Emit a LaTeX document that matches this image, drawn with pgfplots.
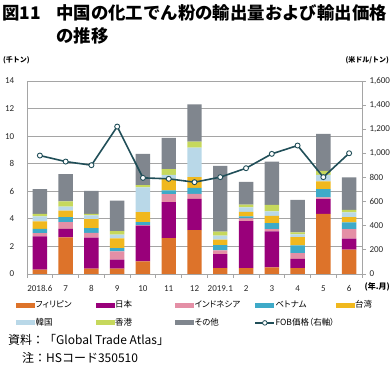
\documentclass[border=0pt]{standalone}
\usepackage{pgfplots}
\pgfplotsset{compat=1.18}
\usepackage{pgfplotstable}
\usepackage{fontspec}
\setmainfont{Carlito}
\newfontfamily\cjk{Noto Sans CJK JP}
\newfontfamily\cjkp{Noto Sans CJK JP}[RawFeature=+palt]
\definecolor{cPhil}{RGB}{221,115,42}
\definecolor{cJap}{RGB}{153,0,122}
\definecolor{cIndo}{RGB}{228,143,166}
\definecolor{cViet}{RGB}{62,170,200}
\definecolor{cTai}{RGB}{240,184,30}
\definecolor{cKor}{RGB}{185,216,232}
\definecolor{cHK}{RGB}{198,216,92}
\definecolor{cOth}{RGB}{128,134,142}
\definecolor{cLine}{RGB}{32,78,88}
\definecolor{cGrid}{RGB}{165,165,165}
\pgfplotstableread{
x phil jap indo viet tai kor hk oth fob
0 0.31 2.42 0.24 0.31 0.53 0.37 0.19 1.78 982
1 2.65 0.63 0.49 0.36 0.46 0.29 0.38 1.98 932
2 0.39 2.24 0.36 0.34 0.65 0.27 0.12 1.66 902
3 0.39 0.65 0.60 0.24 0.70 0.27 0.26 2.22 1222
4 0.92 2.58 0.05 0.22 0.72 1.79 0.16 2.27 797
5 2.61 2.60 0.58 0.27 0.84 0.29 0.41 2.27 789
6 3.19 2.26 0.37 0.43 0.77 2.15 0.44 2.70 761
7 0.43 1.02 0.26 0.39 0.39 0.29 0.29 4.77 803
8 0.43 3.41 0.19 0.15 0.33 0.32 0.21 1.65 877
9 0.48 2.61 0.17 0.43 0.53 0.32 0.48 3.14 996
10 0.43 0.66 0.43 0.56 0.60 0.19 0.15 2.36 1065
11 4.37 1.06 0.12 0.60 0.56 0.48 0.29 2.68 803
12 1.76 0.80 0.70 0.48 0.39 0.34 0.19 2.34 1001
}\data
\pgfplotsset{
  boxleg/.style={legend image code/.code={\fill[#1] (0pt,-2.5pt) rectangle (19pt,2.5pt);}},
}
\newcommand{\legw}[1]{\makebox[59.5pt][l]{#1}}
\begin{document}
\begin{tikzpicture}
\begin{axis}[
  at={(27pt,92pt)}, anchor=south west,
  width=335pt, height=193pt, scale only axis,
  xmin=-0.5, xmax=12.5, ymin=0, ymax=14,
  ybar stacked, bar width=0.56,
  axis lines*=left,
  axis line style={cGrid, line width=0.8pt},
  xtick={0,...,12},
  xticklabels={2018.6,7,8,9,10,11,12,2019.1,2,3,4,5,6},
  major x tick style={draw=none},
  minor xtick={-0.5,0.5,...,12.5},
  minor x tick style={cGrid, line width=0.8pt},
  minor tick length=4pt,
  tick align=outside,
  ytick={0,2,...,14},
  major y tick style={draw=none},
  ymajorgrids, grid style={cGrid, line width=0.8pt},
  /pgf/number format/assume math mode=true,
  tick label style={font=\fontsize{9}{10}\selectfont, text=black!85},
  xticklabel style={yshift=-4pt},
  yticklabel style={xshift=-5pt},
  legend style={draw=none, fill=none, at={(-0.042,-0.125)}, anchor=north west,
    font=\cjkp\fontsize{8.5}{10}\selectfont, nodes={inner sep=0.5pt}, row sep=8pt},
  legend columns=5,
  legend cell align=left,
  clip=false,
]
\addplot[fill=cPhil, draw=none, boxleg=cPhil] table[x=x,y=phil]{\data};
\addlegendentry{\legw{フィリピン}}
\addplot[fill=cJap, draw=none, boxleg=cJap] table[x=x,y=jap]{\data};
\addlegendentry{\legw{日本}}
\addplot[fill=cIndo, draw=none, boxleg=cIndo] table[x=x,y=indo]{\data};
\addlegendentry{\legw{インドネシア}}
\addplot[fill=cViet, draw=none, boxleg=cViet] table[x=x,y=viet]{\data};
\addlegendentry{\legw{ベトナム}}
\addplot[fill=cTai, draw=none, boxleg=cTai] table[x=x,y=tai]{\data};
\addlegendentry{\legw{台湾}}
\addplot[fill=cKor, draw=none, boxleg=cKor] table[x=x,y=kor]{\data};
\addlegendentry{\legw{韓国}}
\addplot[fill=cHK, draw=none, boxleg=cHK] table[x=x,y=hk]{\data};
\addlegendentry{\legw{香港}}
\addplot[fill=cOth, draw=none, boxleg=cOth] table[x=x,y=oth]{\data};
\addlegendentry{\legw{その他}}
\addlegendimage{legend image code/.code={
  \draw[cLine, line width=1.4pt] (0pt,0pt) -- (19pt,0pt);
  \draw[cLine, fill=white, line width=0.8pt] (9.5pt,0pt) circle (2.3pt);}}
\addlegendentry{\legw{FOB価格（右軸）}}
\end{axis}
\begin{axis}[
  at={(27pt,92pt)}, anchor=south west,
  width=335pt, height=193pt, scale only axis,
  xmin=-0.5, xmax=12.5, ymin=0, ymax=1600,
  axis y line*=right, axis x line=none,
  axis line style={cGrid, line width=0.8pt},
  ytick={0,200,...,1600},
  tick align=outside, major tick length=4pt,
  ytick style={cGrid, line width=0.8pt},
  /pgf/number format/assume math mode=true,
  /pgf/number format/1000 sep={,},
  tick label style={font=\fontsize{9}{10}\selectfont, text=black!85},
  clip=false,
]
\addplot[cLine, line width=1.6pt, mark=*, mark size=2.5pt,
  mark options={fill=white, draw=cLine, line width=0.9pt}] table[x=x,y=fob]{\data};
\end{axis}
\node[anchor=west, font=\cjk\bfseries\fontsize{17.4}{20}\selectfont, inner sep=0pt] at (2pt,353pt) {図11};
\node[anchor=west, font=\cjk\bfseries\fontsize{17.4}{20}\selectfont, inner sep=0pt] at (56pt,353pt) {中国の化工でん粉の輸出量および輸出価格};
\node[anchor=west, font=\cjk\bfseries\fontsize{17.4}{20}\selectfont, inner sep=0pt] at (56pt,330pt) {の推移};
\node[anchor=west, font=\cjk\bfseries\fontsize{7}{8}\selectfont, inner sep=0pt] at (3pt,306pt) {(千トン)};
\node[anchor=east, font=\cjk\bfseries\fontsize{7}{8}\selectfont, inner sep=0pt] at (389pt,306pt) {(米ドル/トン)};
\node[anchor=east, font=\cjk\bfseries\fontsize{8}{9}\selectfont, inner sep=0pt] at (390pt,79pt) {(年.月)};
\node[anchor=west, font=\cjk\fontsize{12}{13}\selectfont, inner sep=0pt] at (8pt,26pt) {資料：「Global Trade Atlas」};
\node[anchor=west, font=\cjk\fontsize{12}{13}\selectfont, inner sep=0pt] at (22pt,8pt) {注：HSコード350510};
\pgfresetboundingbox
\path (0pt,0pt) rectangle (391pt,366pt);
\end{tikzpicture}
\end{document}
